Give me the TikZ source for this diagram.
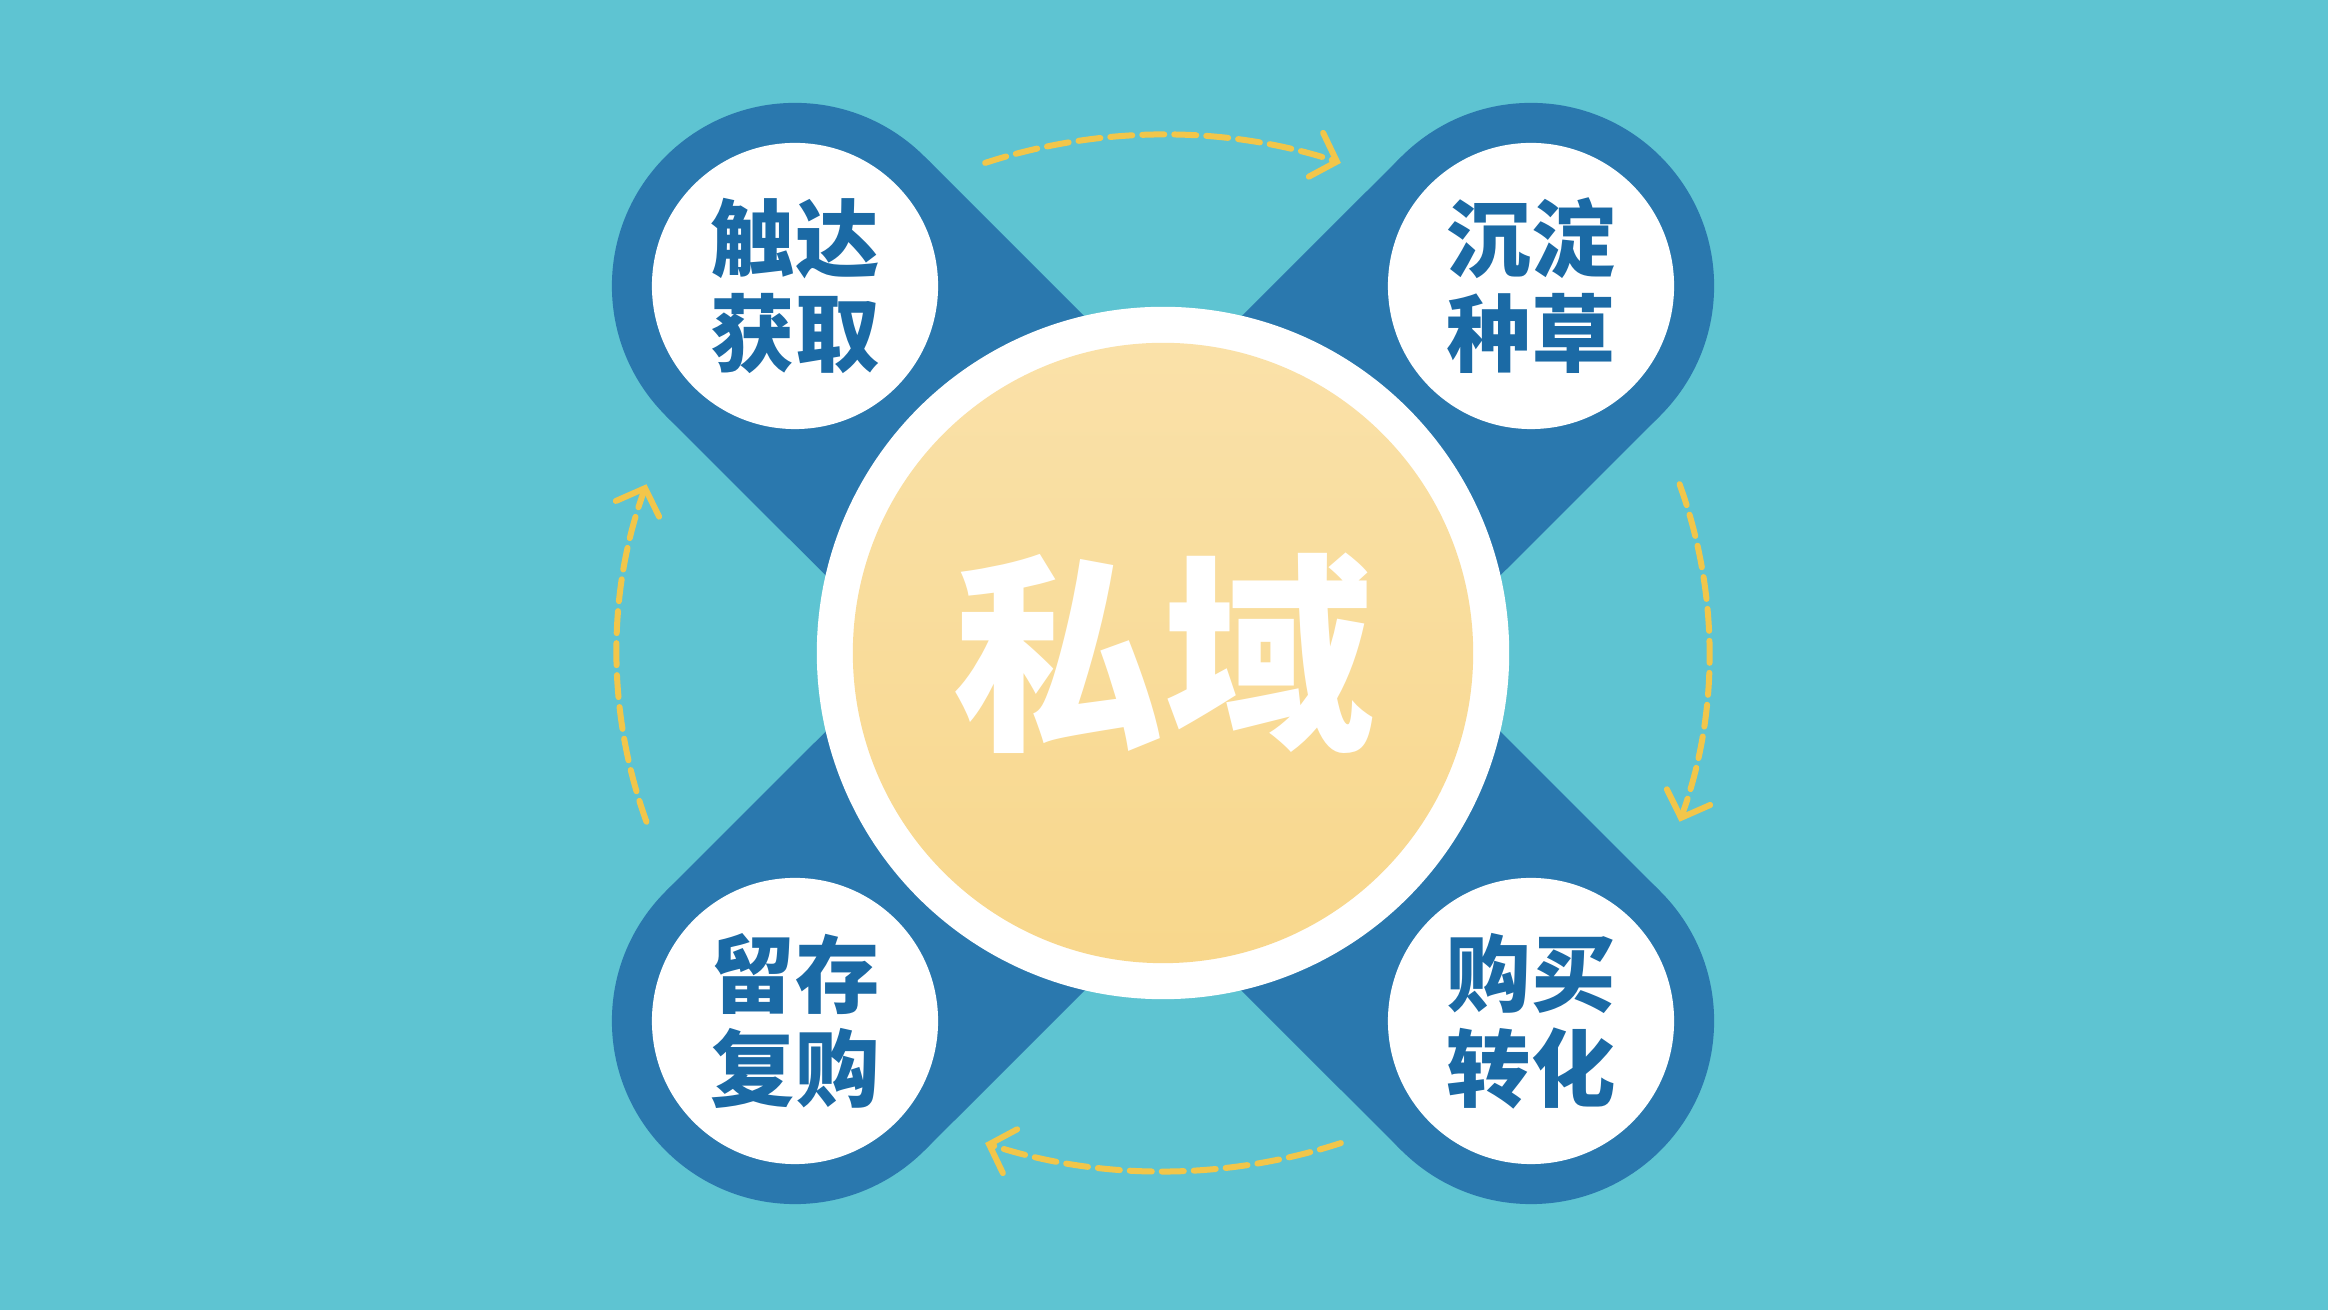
\documentclass[tikz,border=0pt]{standalone}
\usepackage{fontspec}
\newfontfamily\cjk{Noto Sans CJK SC}
\usetikzlibrary{arrows.meta}
\definecolor{sea}{HTML}{5EC4D2}
\definecolor{pinblue}{HTML}{2A78AE}
\definecolor{inkblue}{HTML}{1B6AA5}
\definecolor{sun}{HTML}{F8D78C}
\definecolor{gold}{HTML}{F2C64A}
\tikzset{
  pin/.style={circle, fill=pinblue, minimum size=3.66cm, inner sep=0pt},
  face/.style={circle, fill=white, minimum size=2.86cm, inner sep=0pt, align=center,
    text=inkblue, font=\cjk\bfseries\fontsize{24}{27}\selectfont},
  band/.style={pinblue, line width=3.66cm},
  cyclearc/.style={gold, line width=0.06cm, dash pattern=on 0.22cm off 0.1cm, line cap=round,
    -{Straight Barb[length=0.22cm,width=0.46cm,line cap=round]}}
}
\begin{document}
\begin{tikzpicture}[x=0.01cm,y=0.01cm] %private domain cycle
    \fill[sea] (0,0) rectangle (2328,1310);
    \coordinate (hub) at (1163,657);

    \node[pin] (gainpin) at (795,1024) {};
    \node[pin] (seedpin) at (1531,1024) {};
    \node[pin] (keeppin) at (795,289) {};
    \node[pin] (buypin) at (1531,289) {};
    \draw[band] (gainpin.center) -- (buypin.center);
    \draw[band] (seedpin.center) -- (keeppin.center);

    \node[circle, fill=white, minimum size=6.92cm, inner sep=0pt] (ring) at (hub) {};
    \node[circle, minimum size=6.2cm, inner sep=0pt, top color=sun!75!white, bottom color=sun,
      text=white, font=\cjk\bfseries\fontsize{60}{60}\selectfont] (core) at (hub) {私域};

    \node[face] (gain) at (gainpin) {触达\\获取};
    \node[face] (seed) at (seedpin) {沉淀\\种草};
    \node[face] (keep) at (keeppin) {留存\\复购};
    \node[face] (buy) at (buypin) {购买\\转化};

    \draw[cyclearc] (hub) ++(109:5.46cm and 5.18cm) arc[start angle=109, end angle=71, x radius=5.46cm, y radius=5.18cm];
    \draw[cyclearc] (hub) ++(19:5.46cm and 5.18cm) arc[start angle=19, end angle=-19, x radius=5.46cm, y radius=5.18cm];
    \draw[cyclearc] (hub) ++(-71:5.46cm and 5.18cm) arc[start angle=-71, end angle=-109, x radius=5.46cm, y radius=5.18cm];
    \draw[cyclearc] (hub) ++(199:5.46cm and 5.18cm) arc[start angle=199, end angle=161, x radius=5.46cm, y radius=5.18cm];
\end{tikzpicture}
\end{document}
